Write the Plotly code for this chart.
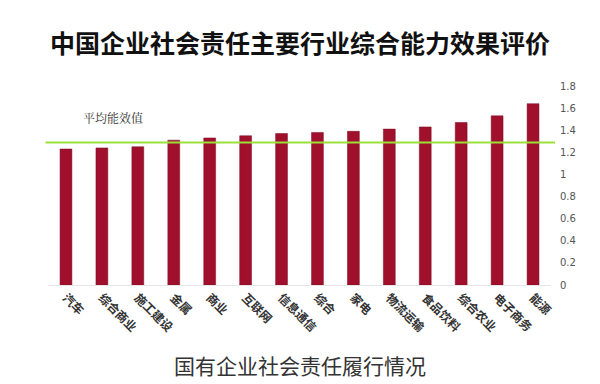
import plotly.graph_objects as go

categories = ["汽车", "综合商业", "施工建设", "金属", "商业", "互联网", "信息通信",
              "综合", "家电", "物流运输", "食品饮料", "综合农业", "电子商务", "能源"]
values = [1.23, 1.24, 1.25, 1.31, 1.33, 1.35, 1.37, 1.38, 1.39, 1.41, 1.43, 1.47, 1.53, 1.64]
average_value = 1.29
y_ticks = [0, 0.2, 0.4, 0.6, 0.8, 1, 1.2, 1.4, 1.6, 1.8]
y_tick_labels = ["0", "0.2", "0.4", "0.6", "0.8", "1", "1.2", "1.4", "1.6", "1.8"]

fig = go.Figure()
fig.add_trace(go.Bar(
    x=categories, y=values, width=0.33,
    marker=dict(color="#a0102c", line=dict(color="#7a0a1f", width=0.5)),
    showlegend=False,
))

fig.add_shape(type="line", xref="paper", yref="y", x0=-0.005, x1=1.008,
              y0=average_value, y1=average_value,
              line=dict(color="#9be03a", width=2))

fig.add_annotation(text="平均能效值", xref="paper", yref="paper", x=0.065, y=0.84,
                   xanchor="left", yanchor="middle", showarrow=False,
                   font=dict(family="Noto Serif CJK SC, Noto Sans CJK SC", size=12, color="#333"))

fig.add_annotation(text="<b>中国企业社会责任主要行业综合能力效果评价</b>", xref="paper", yref="paper",
                   x=0.5, y=1.0, yshift=44, xanchor="center", yanchor="middle", showarrow=False,
                   font=dict(family="Noto Sans CJK SC", size=25, color="#111"))

fig.add_annotation(text="国有企业社会责任履行情况", xref="paper", yref="paper",
                   x=0.5, y=0, yshift=-80, xanchor="center", yanchor="middle", showarrow=False,
                   font=dict(family="Noto Sans CJK SC", size=21, color="#333"))

fig.update_layout(
    width=600, height=384,
    margin=dict(l=40, r=57, t=78, b=107),
    paper_bgcolor="white", plot_bgcolor="white",
    xaxis=dict(tickangle=45, showgrid=False, showline=True, linecolor="#e6e6e6",
               ticks="", range=[-0.5, 13.5],
               tickfont=dict(family="Noto Sans CJK SC", size=12, color="#333", weight="bold")),
    yaxis=dict(side="right", range=[0, 1.8], tickvals=y_ticks, ticktext=y_tick_labels,
               showgrid=False, zeroline=False, ticks="", ticklabelstandoff=8,
               tickfont=dict(family="DejaVu Sans", size=10, color="#555")),
)

fig.write_html("out.html")
